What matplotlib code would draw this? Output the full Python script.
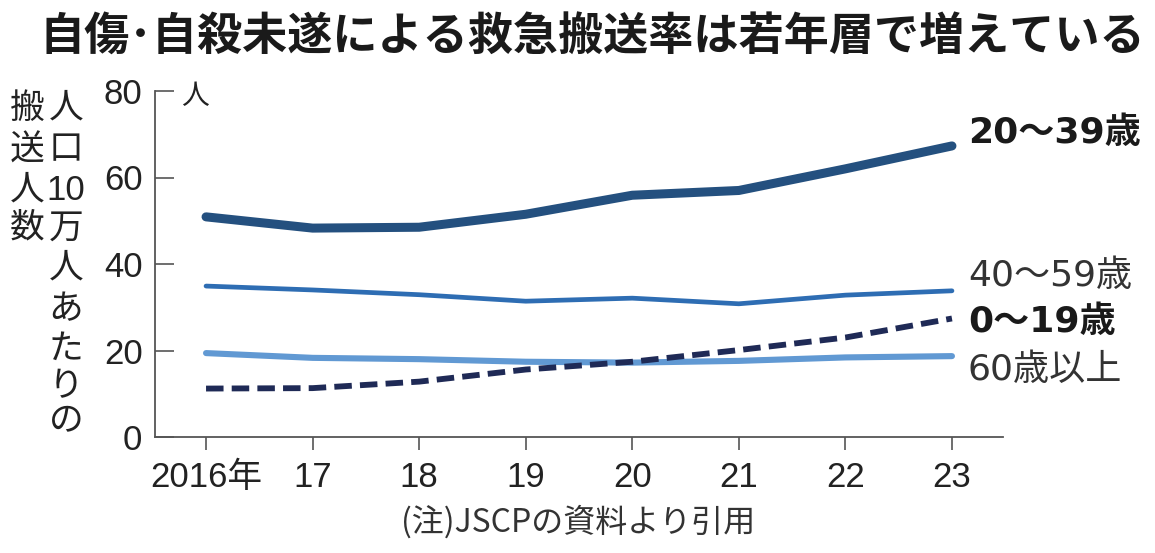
import matplotlib
matplotlib.use("Agg")
import matplotlib.pyplot as plt

W, H = 1155, 553
DPI = 100

years = [2016, 2017, 2018, 2019, 2020, 2021, 2022, 2023]
year_labels = ["2016年", "17", "18", "19", "20", "21", "22", "23"]
age_20_39 = [50.9, 48.3, 48.5, 51.5, 55.9, 57.0, 62.0, 67.3]
age_40_59 = [34.9, 34.0, 32.9, 31.4, 32.1, 30.8, 32.8, 33.8]
age_0_19 = [11.2, 11.3, 12.8, 15.6, 17.4, 20.1, 23.0, 27.4]
age_60_plus = [19.4, 18.3, 18.0, 17.4, 17.2, 17.6, 18.4, 18.7]
y_ticks = [0, 20, 40, 60, 80]

title = "自傷･自殺未遂による救急搬送率は若年層で増えている"
note = "(注)JSCPの資料より引用"

CJK = "Noto Sans CJK JP"
NARROW = ["Liberation Sans", CJK]
WIDE = ["DejaVu Sans", CJK]
TXT = "#222222"

fig = plt.figure(figsize=(W / DPI, H / DPI), dpi=DPI)
fig.patch.set_facecolor("white")

def fx(px):
    return px / W

def fy(py):
    return 1 - py / H

left, right, top, bottom = 155, 1003, 91, 437
ax = fig.add_axes([fx(left), fy(bottom), fx(right) - fx(left), (bottom - top) / H])

ax.plot(years, age_20_39, color="#24507f", lw=6.5, solid_capstyle="round", solid_joinstyle="round", zorder=4)
ax.plot(years, age_40_59, color="#2e6db3", lw=3.4, solid_capstyle="round", solid_joinstyle="round", zorder=3)
ax.plot(years, age_60_plus, color="#6199d3", lw=4.4, solid_capstyle="round", solid_joinstyle="round", zorder=2)
ax.plot(years, age_0_19, color="#1f2a56", lw=4.2, dashes=(3.0, 1.4), dash_capstyle="butt", zorder=5)

ax.set_xlim(2015.521, 2023.479)
ax.set_ylim(0, 80)
ax.set_xticks(years)
ax.set_xticklabels(year_labels)
ax.set_yticks(y_ticks)

for s in ["top", "right"]:
    ax.spines[s].set_visible(False)
for s in ["left", "bottom"]:
    ax.spines[s].set_color("#555555")
    ax.spines[s].set_linewidth(1.3)

ax.tick_params(axis="y", direction="in", length=13.5, width=1.2, color="#555555",
               pad=9, labelsize=25, labelcolor=TXT)
ax.tick_params(axis="x", direction="out", length=9.5, width=1.2, color="#555555",
               pad=8, labelsize=25, labelcolor=TXT)
for lab in ax.get_xticklabels() + ax.get_yticklabels():
    lab.set_family(NARROW)

# Title
fig.text(fx(592), fy(38), title, ha="center", va="center", fontsize=32.5,
         fontweight="bold", family=[CJK], color="#1a1a1a")

# Unit label
fig.text(fx(195), fy(96), "人", ha="center", va="center", fontsize=20,
         family=[CJK], color=TXT)

# Vertical y-axis title (two columns)
right_col = ["人", "口", "10", "万", "人", "あ", "た", "り", "の"]
right_y = [108, 150, 190, 228, 268, 310, 349, 387, 422]
left_col = ["搬", "送", "人", "数"]
left_y = [108, 150, 190, 228]
for ch, yy in zip(right_col, right_y):
    fig.text(fx(66), fy(yy), ch, ha="center", va="center", fontsize=25,
             family=[CJK] if ch != "10" else NARROW, color=TXT)
for ch, yy in zip(left_col, left_y):
    fig.text(fx(27), fy(yy), ch, ha="center", va="center", fontsize=25,
             family=[CJK], color=TXT)

# Series labels
fig.text(fx(968), fy(133), "20～39歳", ha="left", va="center", fontsize=26,
         fontweight="bold", family=WIDE, color="#1a1a1a")
fig.text(fx(968), fy(276), "40～59歳", ha="left", va="center", fontsize=26,
         family=WIDE, color="#333333")
fig.text(fx(968), fy(322), "0～19歳", ha="left", va="center", fontsize=26,
         fontweight="bold", family=WIDE, color="#1a1a1a")
fig.text(fx(968), fy(370), "60歳以上", ha="left", va="center", fontsize=26,
         family=WIDE, color="#333333")

# Note
fig.text(fx(578), fy(522), note, ha="center", va="center", fontsize=23,
         family=[CJK], color="#333333")

fig.savefig("out.png", dpi=DPI, facecolor="white")
